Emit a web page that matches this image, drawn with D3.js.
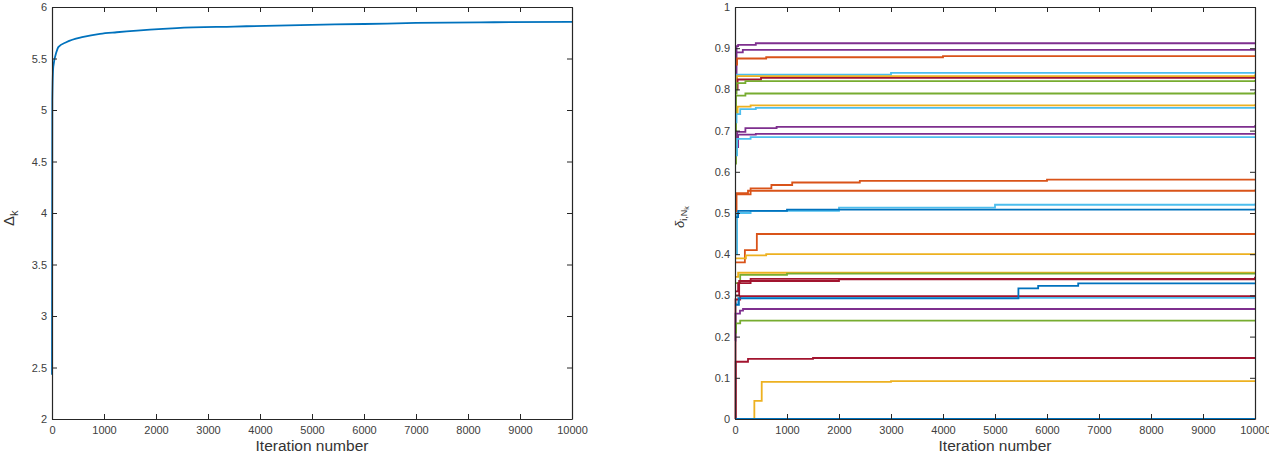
<!DOCTYPE html>
<html>
<head>
<meta charset="utf-8">
<script src="https://cdn.jsdelivr.net/npm/d3@7"></script>
<style>
  body { margin: 0; background: #fff; }
  svg { display: block; font-family: "Liberation Sans", Arial, sans-serif; }
  .axis path, .axis line { stroke: #262626; }
  .axis text { fill: #404040; font-size: 11px; }
</style>
</head>
<body>
<svg id="chart" width="1269" height="468"></svg>
<script>
// Left panel: Delta_k over iterations
const deltaIter = [0, 6, 25, 90, 121, 282, 602, 923, 1244, 1500, 1885, 2397, 3500, 4770, 6000, 7000, 8500, 10000];
const deltaVal  = [2.43, 5.10, 5.42, 5.57, 5.61, 5.66, 5.71, 5.74, 5.755, 5.765, 5.78, 5.795, 5.81, 5.825, 5.835, 5.845, 5.852, 5.856];

const xTicks = [0, 1000, 2000, 3000, 4000, 5000, 6000, 7000, 8000, 9000, 10000];
const leftYTicks = [2, 2.5, 3, 3.5, 4, 4.5, 5, 5.5, 6];
const rightYTicks = [0, 0.1, 0.2, 0.3, 0.4, 0.5, 0.6, 0.7, 0.8, 0.9, 1];

// Right panel: step series [iteration, value], colour index into MATLAB palette
const COLORS = ["#0072BD", "#D95319", "#EDB120", "#7E2F8E", "#77AC30", "#4DBEEE", "#A2142F"];
const seriesColor = [3, 3, 1, 5, 2, 6, 4, 4, 2, 5, 3, 3, 5, 1, 1, 5, 0, 1, 2, 2, 4, 6, 6, 5, 6, 0, 3, 4, 6, 2, 5, 0];
const seriesPts = [
  [[0, 0.83], [30, 0.905], [60, 0.908], [400, 0.912], [10000, 0.913]],
  [[0, 0.86], [20, 0.89], [150, 0.896], [10000, 0.898]],
  [[0, 0.86], [40, 0.875], [600, 0.878], [4000, 0.881], [10000, 0.883]],
  [[0, 0.82], [30, 0.836], [3000, 0.840], [10000, 0.843]],
  [[0, 0.81], [40, 0.832], [10000, 0.836]],
  [[0, 0.80], [50, 0.824], [500, 0.828], [10000, 0.829]],
  [[0, 0.79], [30, 0.815], [200, 0.820], [10000, 0.823]],
  [[0, 0.62], [20, 0.785], [200, 0.790], [10000, 0.794]],
  [[0, 0.74], [50, 0.758], [300, 0.761], [10000, 0.764]],
  [[0, 0.72], [30, 0.740], [100, 0.752], [400, 0.755], [10000, 0.757]],
  [[0, 0.68], [40, 0.697], [200, 0.706], [800, 0.709], [10000, 0.713]],
  [[0, 0.66], [60, 0.690], [400, 0.692], [10000, 0.694]],
  [[0, 0.64], [40, 0.680], [300, 0.684], [10000, 0.686]],
  [[0, 0.40], [20, 0.545], [300, 0.560], [700, 0.568], [1100, 0.574], [2400, 0.578], [6000, 0.581], [10000, 0.583]],
  [[0, 0.50], [30, 0.548], [250, 0.554], [10000, 0.557]],
  [[0, 0.40], [40, 0.500], [300, 0.505], [2000, 0.513], [5000, 0.520], [10000, 0.523]],
  [[0, 0.49], [60, 0.505], [1000, 0.508], [10000, 0.511]],
  [[0, 0.38], [190, 0.41], [420, 0.449], [10000, 0.451]],
  [[0, 0.39], [210, 0.397], [600, 0.400], [10000, 0.402]],
  [[0, 0.345], [60, 0.355], [10000, 0.357]],
  [[0, 0.33], [100, 0.350], [1000, 0.353], [10000, 0.354]],
  [[0, 0.31], [60, 0.330], [300, 0.340], [10000, 0.345]],
  [[0, 0.30], [80, 0.335], [2000, 0.339], [10000, 0.340]],
  [[0, 0.28], [60, 0.294], [10000, 0.296]],
  [[0, 0.0], [10, 0.290], [100, 0.298], [10000, 0.299]],
  [[0, 0.277], [75, 0.293], [5450, 0.317], [5830, 0.323], [6600, 0.329], [10000, 0.329]],
  [[0, 0.19], [10, 0.256], [96, 0.263], [154, 0.267], [10000, 0.268]],
  [[0, 0.21], [20, 0.232], [100, 0.239], [10000, 0.241]],
  [[0, 0.0], [15, 0.139], [250, 0.146], [1500, 0.148], [10000, 0.148]],
  [[0, 0.0], [372, 0.044], [514, 0.090], [3000, 0.092], [10000, 0.093]],
  [[0, 0.0], [10000, 0.0]],
  [[0, 0.0], [10000, 0.0]]
];

const svg = d3.select("#chart");
const TOP = 7, BOTTOM = 419;

function frame(g, x, y, yTicks, yFmt) {
  const h = BOTTOM - TOP;
  const w = x.range()[1] - x.range()[0];
  g.append("g").attr("class", "axis")
    .attr("transform", `translate(0,${h})`)
    .call(d3.axisBottom(x).tickValues(xTicks).tickSizeInner(-5).tickSizeOuter(0)
      .tickPadding(7).tickFormat(d3.format("d")));
  g.append("g").attr("class", "axis")
    .call(d3.axisTop(x).tickValues(xTicks).tickSizeInner(-5).tickSizeOuter(0).tickFormat(""));
  g.append("g").attr("class", "axis")
    .call(d3.axisLeft(y).tickValues(yTicks).tickSizeInner(-5).tickSizeOuter(0)
      .tickPadding(5).tickFormat(yFmt));
  g.append("g").attr("class", "axis")
    .attr("transform", `translate(${w},0)`)
    .call(d3.axisRight(y).tickValues(yTicks).tickSizeInner(-5).tickSizeOuter(0).tickFormat(""));
  g.selectAll(".axis .domain").attr("stroke-width", 1.2);
  g.append("text")
    .attr("x", w / 2).attr("y", h + 32)
    .attr("text-anchor", "middle")
    .attr("fill", "#333").attr("font-size", 15.5)
    .text("Iteration number");
}

// ---- Left panel
(function () {
  const L = 52, R = 572;
  const g = svg.append("g").attr("transform", `translate(${L},${TOP})`);
  const x = d3.scaleLinear().domain([0, 10000]).range([0, R - L]);
  const y = d3.scaleLinear().domain([2, 6]).range([BOTTOM - TOP, 0]);

  const data = deltaIter.map((it, i) => ({ it, v: deltaVal[i] }));
  g.append("path")
    .datum(data)
    .attr("fill", "none")
    .attr("stroke", COLORS[0])
    .attr("stroke-width", 1.8)
    .attr("d", d3.line().x(d => x(d.it)).y(d => y(d.v)).curve(d3.curveMonotoneX));

  frame(g, x, y, leftYTicks, d => d);

  svg.append("text")
    .attr("transform", "translate(14,226) rotate(-90)")
    .attr("fill", "#333").attr("font-size", 15)
    .call(t => {
      t.append("tspan").text("Δ");
      t.append("tspan").attr("font-size", 11).attr("dy", 4).text("k");
    });
})();

// ---- Right panel
(function () {
  const L = 735, R = 1255;
  const g = svg.append("g").attr("transform", `translate(${L},${TOP})`);
  const x = d3.scaleLinear().domain([0, 10000]).range([0, R - L]);
  const y = d3.scaleLinear().domain([0, 1]).range([BOTTOM - TOP, 0]);

  const line = d3.line().x(d => x(d[0])).y(d => y(d[1])).curve(d3.curveStepAfter);
  g.selectAll(".series")
    .data(seriesPts)
    .join("path")
    .attr("class", "series")
    .attr("fill", "none")
    .attr("stroke", (d, i) => COLORS[seriesColor[i]])
    .attr("stroke-width", 1.8)
    .attr("d", line);

  frame(g, x, y, rightYTicks, d => d);

  svg.append("text")
    .attr("transform", "translate(684,228) rotate(-90)")
    .attr("fill", "#333").attr("font-size", 13)
    .call(t => {
      t.append("tspan").attr("font-style", "italic").text("δ");
      t.append("tspan").attr("font-size", 9).attr("dy", 3).text("i,N");
      t.append("tspan").attr("font-size", 7).attr("dy", 2).text("k");
    });
})();
</script>
</body>
</html>
